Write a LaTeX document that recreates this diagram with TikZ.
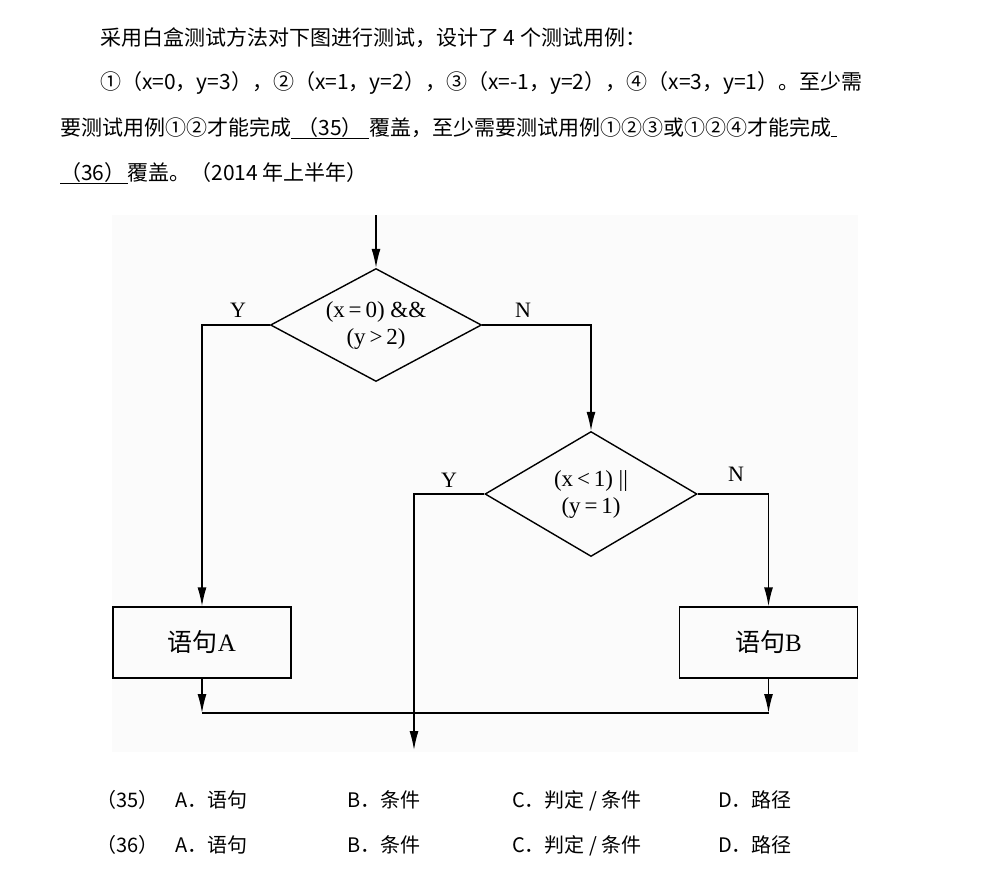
\documentclass[tikz,border=0pt]{standalone}
\usepackage{fontspec}
\setmainfont{Liberation Serif}
\newfontfamily\cjk{Noto Sans CJK SC}
\usetikzlibrary{arrows.meta,positioning,shapes.geometric}
\tikzset{
  decision/.style={diamond,draw,line width=1.4pt,inner sep=0pt,aspect=1.87,align=center,font=\fontsize{23}{27}\selectfont},
  stmt/.style={rectangle,draw,line width=1.4pt,minimum width=178pt,minimum height=71pt,font=\fontsize{25}{28}\selectfont},
  branch/.style={inner sep=0pt,font=\fontsize{22}{24}\selectfont},
  question/.style={anchor=base west,inner sep=0pt,font=\cjk\fontsize{21}{24}\selectfont},
  option/.style={anchor=base west,inner sep=0pt,font=\cjk\fontsize{20}{24}\selectfont},
  hv/.style={to path={-| (\tikztotarget)}},
  every edge/.style={draw,line width=1.4pt,-{Latex[length=19pt,width=9pt]}}
}

\begin{document}
\begin{tikzpicture}[x=1pt,y=-1pt]
  \useasboundingbox (0,0) rectangle (991,892);

  % question text
  \node[question] (q1) at (100,45) {采用白盒测试方法对下图进行测试，设计了 4 个测试用例：};
  \node[question] (q2) at (100,89) {①（x=0，y=3），②（x=1，y=2），③（x=-1，y=2），④（x=3，y=1）。至少需};
  \node[question] (q3) at (60,135) {要测试用例①②才能完成\underline{\hspace{0.3em}（35）\hspace{0.3em}}覆盖，至少需要测试用例①②③或①②④才能完成\underline{\hspace{0.3em}}};
  \node[question] (q4) at (60,180) {\underline{（36）\hspace{0.1em}}覆盖。（2014 年上半年）};

  % flowchart
  \fill[gray!3] (112,215) rectangle (858,752);

  \node[decision,minimum width=211pt,minimum height=113pt] (d1) at (376,325) {(x\,=\,0) \&\&\\(y\,>\,2)};
  \node[decision,minimum width=212pt,minimum height=125pt] (d2) at (591,494) {(x\,<\,1) ||\\(y\,=\,1)};
  \node[stmt] (sa) at (202,642.5) {{\cjk 语句}A};
  \node[stmt] (sb) at (768.5,642.5) {{\cjk 语句}B};

  \node[branch] (y1) at (238,310) {Y};
  \node[branch] (n1) at (523,310) {N};
  \node[branch] (y2) at (449,480) {Y};
  \node[branch] (n2) at (736,474) {N};

  \coordinate (start) at (376,215);
  \coordinate (exit) at (414,750);
  \coordinate (ja) at (202,713);
  \coordinate (jb) at (768.5,713);

  \path
    (start) edge (d1.north)
    (d1.west) edge[hv] (sa.north)
    (d1.east) edge[hv] (d2.north)
    (d2.west) edge[hv] (exit)
    (d2.east) edge[hv] (sb.north)
    (sa.south) edge (ja)
    (sb.south) edge (jb)
    (ja) edge[-] (jb);

  % options
  \node[option] (o35) at (96,807) {（35）};
  \node[option] (o35a) at (175,807) {A．语句};
  \node[option] (o35b) at (347,807) {B．条件};
  \node[option] (o35c) at (512,807) {C．判定 / 条件};
  \node[option] (o35d) at (718,807) {D．路径};
  \node[option] (o36) at (96,852) {（36）};
  \node[option] (o36a) at (175,852) {A．语句};
  \node[option] (o36b) at (347,852) {B．条件};
  \node[option] (o36c) at (512,852) {C．判定 / 条件};
  \node[option] (o36d) at (718,852) {D．路径};
\end{tikzpicture}
\end{document}
